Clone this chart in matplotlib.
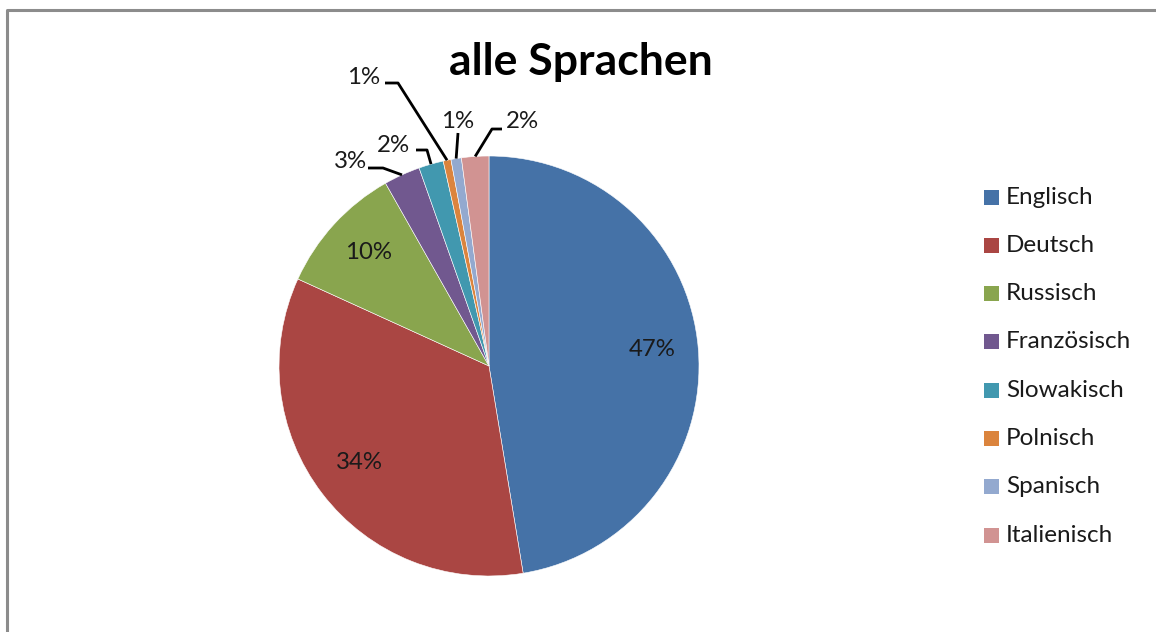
import numpy as np
import matplotlib
matplotlib.use("Agg")
import matplotlib.pyplot as plt
from matplotlib.lines import Line2D

plt.rcParams['font.family'] = ['Lato', 'DejaVu Sans']

# ---- data ----
title = "alle Sprachen"
languages = ["Englisch", "Deutsch", "Russisch", "Französisch",
             "Slowakisch", "Polnisch", "Spanisch", "Italienisch"]
shares = [47.4, 34.4, 10.0, 2.8, 1.9, 0.6, 0.8, 2.1]
colors = ["#4572A7", "#AA4643", "#89A54E", "#71588F",
          "#4198AF", "#DB843D", "#93A9CF", "#D19392"]

W, H = 1156, 632
fig = plt.figure(figsize=(W / 100, H / 100), dpi=100)
ax = fig.add_axes([0, 0, 1, 1])
ax.set_xlim(0, W)
ax.set_ylim(0, H)
ax.set_aspect('equal')
ax.axis('off')

cx, cy, R = 489, H - 366, 210
wedges, _ = ax.pie(shares, colors=colors, startangle=90, counterclock=False,
                   center=(cx, cy), radius=R, frame=True,
                   wedgeprops=dict(edgecolor='white', linewidth=0.4))
ax.set_xlim(0, W)
ax.set_ylim(0, H)
ax.axis('off')

total = sum(shares)
cum = np.cumsum([0] + shares)
labels = [f"{round(v / total * 100 + 1e-9):d}%" for v in shares]

def mid_dir(i):
    frac = (cum[i] + cum[i + 1]) / 2 / total
    ang = np.deg2rad(90 - frac * 360)
    return np.cos(ang), np.sin(ang)

LBL = 17.3
# inside labels
for i in range(3):
    dx, dy = mid_dir(i)
    ax.text(cx + dx * R * 0.78, cy + dy * R * 0.78 + 3, labels[i], fontsize=LBL,
            ha='center', va='center', color='#1a1a1a')

# outside labels with leader lines
outside = {
    3: dict(text=(367, 162), ha='right', path=[(368, 168), (383, 168)]),
    4: dict(text=(410, 146), ha='right', path=[(416, 150), (427, 150)]),
    5: dict(text=(380, 78), ha='right', path=[(385, 83), (398, 83)]),
    6: dict(text=(458, 121), ha='center', path=[(458, 133)]),
    7: dict(text=(522, 121), ha='center', path=[(502, 129), (492, 129)]),
}
for i, spec in outside.items():
    dx, dy = mid_dir(i)
    ex, ey = cx + dx * R, cy + dy * R
    pts = [(x, H - y) for x, y in spec['path']] + [(ex, ey)]
    xs, ys = zip(*pts)
    ax.add_line(Line2D(xs, ys, color='black', linewidth=2.0, solid_capstyle='butt'))
    tx, ty = spec['text']
    ax.text(tx, H - ty, labels[i], fontsize=LBL, ha=spec['ha'], va='center',
            color='#1a1a1a')

# title
ax.text(581, H - 62, title, fontsize=32, fontweight='bold', ha='center',
        va='center', color='black')

# legend
y0, dyl = 197, 48.3
for k, (lab, col) in enumerate(zip(languages, colors)):
    y = H - (y0 + k * dyl)
    ax.add_patch(plt.Rectangle((984, y - 7.5), 15, 15, facecolor=col,
                               edgecolor='none'))
    ax.text(1006, y, lab, fontsize=17.5, ha='left', va='center', color='#1a1a1a')

# outer frame (partially visible)
ax.add_line(Line2D([7, 7, W + 5], [-5, H - 10, H - 10], color='#8c8c8c',
                   linewidth=2.2))

fig.savefig("out.png", dpi=100)
